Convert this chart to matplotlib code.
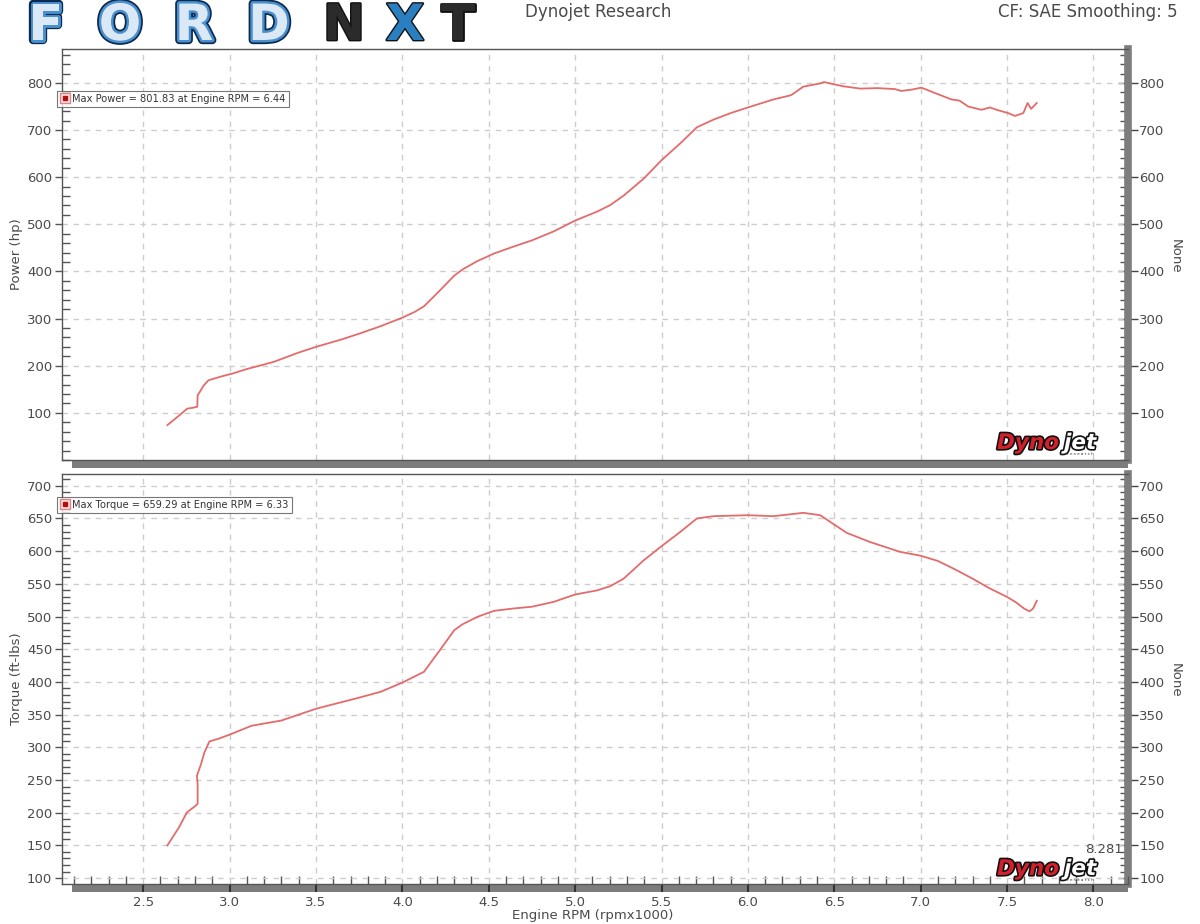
import matplotlib
matplotlib.use("Agg")
import matplotlib.pyplot as plt
import matplotlib.patheffects as pe
from matplotlib.lines import Line2D
from matplotlib.patches import Rectangle
from matplotlib.legend_handler import HandlerTuple
from matplotlib.ticker import MultipleLocator

# data (rpm x1000)
power_rpm = [2.64, 2.70, 2.755, 2.79, 2.813, 2.815, 2.85, 2.877, 2.917, 2.96,
             3.022, 3.10, 3.254, 3.40, 3.50, 3.65, 3.75, 3.875, 4.0, 4.07,
             4.125, 4.21, 4.30, 4.347, 4.434, 4.53, 4.645, 4.75, 4.876, 5.0,
             5.127, 5.204, 5.281, 5.397, 5.5, 5.609, 5.705, 5.80, 5.90, 6.0,
             6.148, 6.25, 6.32, 6.418, 6.44, 6.55, 6.65, 6.75, 6.85, 6.888,
             6.95, 7.004, 7.08, 7.178, 7.225, 7.275, 7.352, 7.40, 7.449, 7.507,
             7.545, 7.594, 7.619, 7.639, 7.672]
power_hp = [74, 92, 109, 111, 113, 137, 158, 169, 173.5, 178,
            184, 193, 208, 228, 240, 256, 268, 284, 302, 314,
            326, 357, 391, 404, 422, 438, 453, 466, 485, 508,
            527, 541, 561, 597, 636, 672, 706, 722, 736, 748,
            765, 774, 792, 799, 801.8, 793, 788, 789, 787, 783,
            786, 790, 779, 765, 762.5, 750, 743, 748, 742, 736,
            730, 736, 757.5, 745, 757.5]

torque_rpm = [2.64, 2.708, 2.753, 2.80, 2.815, 2.815, 2.811, 2.835, 2.854, 2.883,
              2.932, 3.0, 3.127, 3.30, 3.50, 3.75, 3.875, 4.0, 4.125, 4.21,
              4.30, 4.347, 4.434, 4.53, 4.645, 4.75, 4.876, 5.0, 5.127, 5.204,
              5.281, 5.397, 5.5, 5.609, 5.705, 5.80, 6.0, 6.148, 6.32, 6.418,
              6.572, 6.707, 6.88, 7.0, 7.1, 7.2, 7.3, 7.4, 7.5, 7.55,
              7.6, 7.63, 7.65, 7.672]
torque_ftlb = [150, 178, 200.6, 210, 213.5, 244, 256.7, 274.6, 292, 309,
               312.8, 319.4, 333, 341, 359, 376, 385, 399, 415.5, 446,
               479, 488, 499.5, 508.7, 512.4, 515, 522.5, 533.7, 540, 546.5,
               558, 586, 607.6, 629.5, 650, 653.5, 655, 653.5, 658.6, 655,
               628, 614, 599, 593, 585, 572, 558, 543, 530, 522,
               512, 508, 512, 524]

rpm_ticks = [2.5, 3.0, 3.5, 4.0, 4.5, 5.0, 5.5, 6.0, 6.5, 7.0, 7.5, 8.0]
power_ticks = [100, 200, 300, 400, 500, 600, 700, 800]
torque_ticks = [100, 150, 200, 250, 300, 350, 400, 450, 500, 550, 600, 650, 700]

power_legend = "Max Power = 801.83 at Engine RPM = 6.44"
torque_legend = "Max Torque = 659.29 at Engine RPM = 6.33"
cursor_text = "8.281"

LINE = '#e46b6b'
TXT = '#4a4a4a'
BAR = '#7d7d7d'
W, H = 1200, 924

plt.rcParams['font.family'] = ['DejaVu Sans']

fig = plt.figure(figsize=(W / 100, H / 100), dpi=100)
ax1 = fig.add_axes([62 / W, 1 - 460 / H, 1066 / W, 411 / H])
ax2 = fig.add_axes([62 / W, 1 - 884 / H, 1066 / W, 410 / H])


def style_panel(ax, ylim, yticks, yminor, ylabel, bottom_labels):
    ax.set_xlim(2.03, 8.2)
    ax.set_ylim(*ylim)
    ax.set_xticks(rpm_ticks)
    ax.xaxis.set_minor_locator(MultipleLocator(0.1))
    ax.set_yticks(yticks)
    ax.yaxis.set_minor_locator(MultipleLocator(yminor))
    ax.grid(True, which='major', color='#cdcdcd', linestyle=(0, (4, 4)), linewidth=1)

    for side in ('left', 'top', 'bottom'):
        ax.spines[side].set_color('#555555')
        ax.spines[side].set_linewidth(1)
    ax.spines['right'].set_visible(False)

    ax.tick_params(axis='y', which='major', direction='out', length=5, width=1,
                   color='#555555', labelsize=9.5, labelcolor=TXT, pad=2)
    ax.tick_params(axis='y', which='minor', direction='in', length=5.5, width=1,
                   color='#555555')
    ax.set_ylabel(ylabel, fontsize=9.5, color=TXT)
    ax.yaxis.set_label_coords(-0.037, 0.5)

    # gray bar under the plot
    ax.add_patch(Rectangle((10 / 1066, -8 / 410), 1 - 10 / 1066, 8 / 410,
                           transform=ax.transAxes, facecolor=BAR,
                           edgecolor='none', clip_on=False, zorder=0.5))

    if bottom_labels:
        ax.tick_params(axis='x', which='major', direction='out', length=6, width=1.5,
                       color='#333333', labelsize=9.5, labelcolor=TXT, pad=3)
        ax.tick_params(axis='x', which='minor', direction='in', length=5.5, width=1,
                       color='#555555')
    else:
        ax.tick_params(axis='x', which='both', bottom=False, labelbottom=False)

    # right hand axis, same scale
    sec = ax.secondary_yaxis('right')
    sec.set_yticks(yticks)
    sec.yaxis.set_minor_locator(MultipleLocator(yminor))
    sec.spines['right'].set_color(BAR)
    sec.spines['right'].set_linewidth(5.5)
    sec.tick_params(which='major', direction='inout', length=14, width=1,
                    color='#444444', labelsize=9.5, labelcolor=TXT, pad=1)
    sec.tick_params(which='minor', direction='in', length=5.5, width=1,
                    color='#555555')
    return sec


style_panel(ax1, (0, 872), power_ticks, 20, 'Power (hp)', False)
style_panel(ax2, (91, 718), torque_ticks, 10, 'Torque (ft-lbs)', True)

ax1.plot(power_rpm, power_hp, color=LINE, linewidth=1.3, zorder=3)
ax2.plot(torque_rpm, torque_ftlb, color=LINE, linewidth=1.3, zorder=3)

ax2.set_xlabel('Engine RPM (rpmx1000)', fontsize=9.5, color=TXT)
ax2.xaxis.set_label_coords(0.498, -0.06)

fig.text(1175 / W, 1 - 256 / H, 'None', rotation=270, ha='center', va='center',
         fontsize=9.5, color=TXT)
fig.text(1175 / W, 1 - 680 / H, 'None', rotation=270, ha='center', va='center',
         fontsize=9.5, color=TXT)

# max value boxes
marker = (Line2D([], [], marker='s', linestyle='none', markersize=7.5,
                 markerfacecolor='#fbe1e1', markeredgecolor='#e08585'),
          Line2D([], [], marker='s', linestyle='none', markersize=2.2,
                 markerfacecolor='#b01010', markeredgecolor='#b01010'))
for ax, label, top in ((ax1, power_legend, 0.898), (ax2, torque_legend, 0.944)):
    leg = ax.legend([marker], [label], handler_map={tuple: HandlerTuple(ndivide=1)},
                    loc='upper left', bbox_to_anchor=(-0.005, top),
                    fontsize=7.1, frameon=True, fancybox=False, borderpad=0.3,
                    handlelength=1.0, handletextpad=0.3, borderaxespad=0)
    leg.get_frame().set_edgecolor('#555555')
    leg.get_frame().set_linewidth(0.8)
    for t in leg.get_texts():
        t.set_color('#333333')

ax2.text(0.995, 0.085, cursor_text, transform=ax2.transAxes, ha='right', va='center',
         fontsize=9.5, color=TXT)

# Dynojet badges in the bottom right corners
badge_fx = [pe.Stroke(linewidth=2.4, foreground='#111111'), pe.Normal()]
for y_px in (443, 869):
    fig.text(997 / W, 1 - y_px / H, 'Dyno', fontsize=15.5, fontweight='heavy',
             style='italic', color='#d4202a', ha='left', va='center', path_effects=badge_fx)
    fig.text(1064 / W, 1 - y_px / H, 'jet', fontsize=15.5, fontweight='heavy',
             style='italic', color='white', ha='left', va='center', path_effects=badge_fx)
    fig.text(1080 / W, 1 - (y_px + 11) / H, 'r e s e a r c h', fontsize=3,
             color='#333333', ha='center', va='center')

# header
fig.text(598 / W, 1 - 12 / H, 'Dynojet Research', ha='center', va='center',
         fontsize=12, color=TXT)
fig.text(1178 / W, 1 - 12 / H, 'CF: SAE Smoothing: 5', ha='right', va='center',
         fontsize=12, color=TXT)

# FORDNXT logo drawn as letters
ford_fx = [pe.Stroke(linewidth=6, foreground='#0c2a4d'),
           pe.Stroke(linewidth=3.5, foreground='#4a90d0'), pe.Normal()]
nxt_fx = [pe.Stroke(linewidth=2, foreground='#111111'), pe.Normal()]
logo_x = [46, 120, 194, 269, 344, 405, 458]
for ch, x in zip('FORDNXT', logo_x):
    if ch in 'FORD':
        fig.text(x / W, 1 - 26 / H, ch, fontsize=36, fontweight='bold', color='#dbe9f6',
                 ha='center', va='center', path_effects=ford_fx)
    else:
        col = '#2a7fc0' if ch == 'X' else '#2b2b2b'
        fig.text(x / W, 1 - 26 / H, ch, fontsize=36, fontweight='bold', color=col,
                 ha='center', va='center', path_effects=nxt_fx)

fig.savefig('out.png', dpi=100)
